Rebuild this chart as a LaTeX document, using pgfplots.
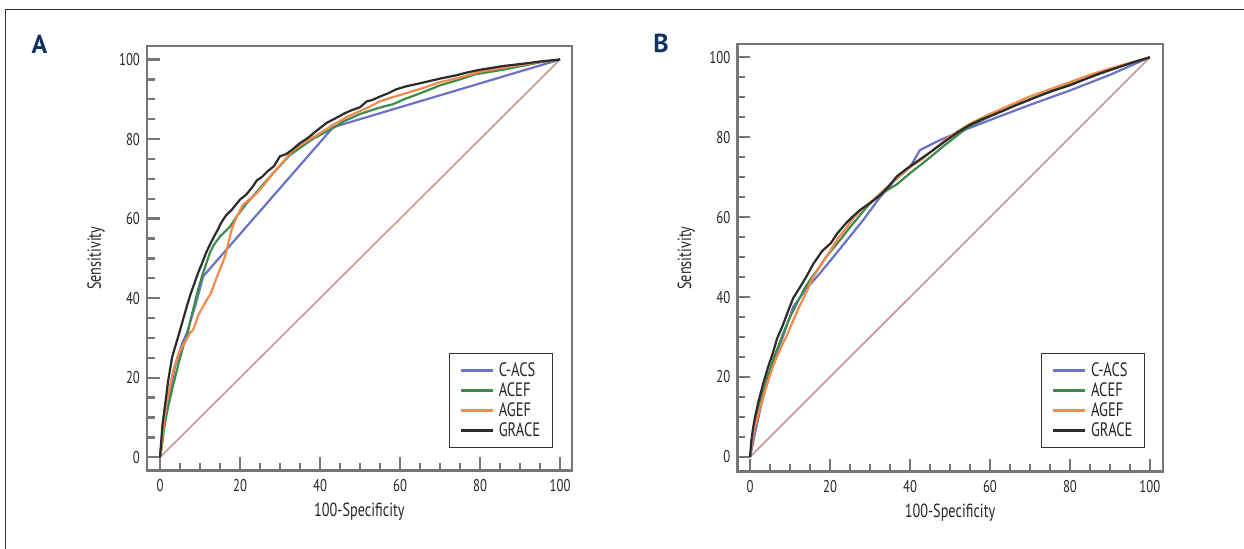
\documentclass[border=0pt]{standalone}
\usepackage{fontspec}
\setmainfont{PT Sans}[FakeStretch=0.75]
\newfontfamily\letterfont{PT Sans}[FakeStretch=1.0]
\usepackage{pgfplots}
\pgfplotsset{compat=1.18}
\definecolor{cblue}{HTML}{6A72C6}
\definecolor{cgreen}{HTML}{3E8C4C}
\definecolor{corange}{HTML}{F58A4C}
\definecolor{cblack}{HTML}{2B2B2B}
\definecolor{cdiag}{HTML}{CC9690}
\definecolor{axgray}{HTML}{767676}
\definecolor{navy}{HTML}{0E3264}
\pgfplotsset{
  roc/.style={
    scale only axis,
    no markers,
    axis line style={axgray, line width=1.2pt},
    tick align=inside,
    tick pos=left,
    xtick={0,20,...,100}, ytick={0,20,...,100},
    minor tick num=3,
    major tick length=6.5pt, minor tick length=3.8pt,
    tick style={axgray, line width=1.2pt},
    ticklabel style={font=\fontsize{8.5}{10}\selectfont, text=black!85},
    xticklabel style={yshift=-1pt},
    xlabel={100-Specificity}, ylabel={Sensitivity},
    label style={font=\fontsize{9.5}{11}\selectfont, text=black!85},
    xlabel style={at={([yshift=-20.5pt]axis description cs:0.5,0)}, anchor=center},
    ylabel style={at={([xshift=-25.5pt]axis description cs:0,0.5)}, anchor=center},
    legend cell align=left,
    legend image code/.code={\draw[#1, line width=1.4pt] (0pt,0pt) -- (16pt,0pt);},
    legend style={draw=black!80, line width=0.5pt, fill=white, inner xsep=5pt, inner ysep=3.3pt,
      row sep=0pt, font=\fontsize{9.7}{10}\selectfont, text=black!85,
      nodes={inner sep=1pt, text height=6.8pt, text depth=1.2pt},
      /tikz/every odd column/.append style={column sep=1.3pt}},
    every axis plot/.append style={line width=1.1pt, line join=round},
    /pgf/number format/assume math mode=true,
  }
}
\begin{document}
\begin{tikzpicture}
\path[use as bounding box] (0,0) rectangle (622pt,-274.5pt);
\draw[black!80, line width=0.5pt] (2.5pt,-274.5pt) -- (2.5pt,-5pt) -- (622pt,-5pt);
\node[font={\letterfont\bfseries\fontsize{13}{15}\selectfont}, text=navy] at (19.75pt,-22pt) {A};
\node[font={\letterfont\bfseries\fontsize{13}{15}\selectfont}, text=navy] at (330.5pt,-21.75pt) {B};

% Panel A
\begin{axis}[roc, at={(73.5pt,-235.25pt)}, anchor=south west,
  width=212.35pt, height=212.25pt,
  xmin=-3.25, xmax=102.9, ymin=-3.32, ymax=103.4,
  legend style={at={(1,0)}, anchor=south east, xshift=-9.5pt, yshift=11.4pt}]
\addplot[cdiag, line width=0.8pt, forget plot] coordinates {(0,0) (100,100)};
\addplot[cblue] coordinates {(0,0) (0.8,7) (2,14) (3.7,22.6) (5.5,28.5) (6.7,31.2) (8.75,37.9) (10.8,45.5) (43.3,83) (100,100)};
\addplot[cgreen] coordinates {(0,0) (0.5,3) (1,7) (1.5,10) (2,12.5) (3,17) (4,21) (5,25) (6,28.5) (6.7,30) (7.5,34) (8.5,38) (9.5,42) (10.5,45.5) (11.5,48.5) (12.5,51.5) (13.5,53.5) (15,55.5) (17.5,58) (19.5,61) (21.7,63.9) (24,66.5) (27,70) (30,73.3) (32.5,76) (35,77.8) (38.3,80.1) (40.5,81.3) (43.3,82.8) (46,84.5) (50,86.3) (53.3,87.4) (56,88.2) (58.3,88.8) (61,90) (65,91.5) (70,93.5) (75,95) (78.8,96.3) (82,96.8) (86,97.5) (90,98.3) (95,99.3) (100,100)};
\addplot[corange] coordinates {(0,0) (0.5,4) (1,9) (1.7,13.8) (2.5,18) (3.5,22.5) (4.6,26) (6,28.5) (7.6,31.4) (8.3,32) (9.6,35.8) (11.7,39.6) (12.6,41) (14.6,46.3) (16.25,50.5) (17.1,54) (17.9,57.2) (19.2,60.6) (20.8,63.5) (22.5,65) (24.2,66.4) (26,68.5) (28.3,71.5) (30.5,74) (33.3,77.3) (36,79) (40,81.5) (43.3,83.6) (47,85.7) (51.7,87.8) (55,89.5) (58,90.5) (61.7,91.6) (65,92.6) (70,94.3) (75,95.5) (79.8,96.9) (85,97.8) (90,98.6) (95,99.4) (100,100)};
\addplot[cblack] coordinates {(0,0) (0.3,4) (0.6,8) (1,11) (1.5,15) (2,19) (2.5,22) (3,25) (3.7,27.5) (4.6,30.5) (5.3,33) (6.1,35.8) (7,39) (7.8,41.5) (8.6,43.7) (9.5,46.3) (10.4,48.5) (11.6,51.6) (12.5,53.5) (13.5,55.5) (14.5,57.3) (15.3,59) (16.5,60.8) (18,62.3) (20,64.8) (21.5,66) (23,67.8) (24.2,69.6) (25.5,70.5) (27,72) (28.5,73.2) (30,75.7) (31.5,76.2) (33,77.3) (35,79) (37,80.3) (39,82) (41.7,84.1) (44,85.3) (46,86.4) (48,87.3) (50,88) (51.7,89.5) (53,89.8) (55,90.7) (57,91.5) (59,92.5) (61.7,93.3) (64,93.8) (67,94.5) (70,95.2) (73.9,96) (77,96.8) (79.8,97.4) (83,97.9) (86,98.4) (88.7,98.7) (92,99.1) (95,99.5) (98,99.8) (100,100)};
\legend{C-ACS,ACEF,AGEF,GRACE}
\end{axis}

% Panel B
\begin{axis}[roc, at={(368.65pt,-235.85pt)}, anchor=south west,
  width=212.7pt, height=213.7pt,
  xmin=-3.2, xmax=103.2, ymin=-3.68, ymax=103.25,
  legend style={at={(1,0)}, anchor=south east, xshift=-8.85pt, yshift=12pt}]
\addplot[cdiag, line width=0.8pt, forget plot] coordinates {(0,0) (100,100)};
\addplot[cblue] coordinates {(0,0) (1,5) (3,14) (5,21) (8,29.5) (10.8,37.6) (14,42) (17.5,46) (22,51.5) (28.3,59.3) (32.5,65) (36,69) (40,72.5) (42.5,76.8) (47.5,79.3) (52,81.2) (60,84.3) (70,88.1) (80,91.7) (90,95.6) (100,100)};
\addplot[cgreen] coordinates {(0,0) (0.5,4) (1,7) (2,11.5) (3,15.5) (4.5,20.5) (6,25) (8.3,31) (10,35) (12,39) (13.5,42) (15,44.3) (17,47) (19,50) (22.5,54.3) (25,57.5) (27.5,60.5) (30,63.5) (33,66) (36.7,68.2) (40,71) (44.2,74.3) (48.3,77.7) (52.5,81) (55,82.8) (60,85.2) (65,87.5) (70,89.5) (75,91.5) (80,93.2) (85,95) (90,96.8) (95,98.5) (100,100)};
\addplot[corange] coordinates {(0,0) (0.5,4) (1,7) (1.7,9.4) (3,14) (4.2,18.1) (5.5,22) (6.7,25.1) (8,28) (9.2,30.4) (10.5,33.5) (12.2,37.4) (13.5,40) (14.7,42.6) (15.8,45.1) (18,48.5) (20,51.5) (22,54.8) (24.2,57.5) (26,60) (28.3,62.3) (31,64.5) (34,67.3) (37,70) (40,72.5) (43,74.5) (46,77) (49,79.5) (52,81.5) (55,83.4) (60,85.8) (65,88) (70,90.2) (75,92) (80,93.8) (85,95.6) (90,97.2) (95,98.6) (100,100)};
\addplot[cblack] coordinates {(0,0) (0.3,4) (0.7,7) (1.2,9.8) (2,13.5) (3.2,18.1) (4.5,22.5) (5.7,26) (6.7,29.5) (8.2,33) (9.5,36.5) (10.8,39.8) (12.5,42.5) (14,45) (15.8,48.3) (18,51.5) (20.2,53.5) (21.7,55.8) (24,58.5) (25.5,60) (27.5,61.8) (30,63.5) (32.5,65.5) (34.5,67.5) (36.7,70.2) (39,72) (41.7,73.9) (44,75.5) (46.5,77.3) (49.2,79.3) (52,81.3) (55,83.1) (58,84.5) (60,85.3) (63.3,86.6) (66,87.8) (70,89.4) (73,90.6) (76,91.7) (80,93) (83,94.2) (87,95.8) (90,96.8) (93,97.8) (96,98.8) (100,100)};
\legend{C-ACS,ACEF,AGEF,GRACE}
\end{axis}
\end{tikzpicture}
\end{document}
